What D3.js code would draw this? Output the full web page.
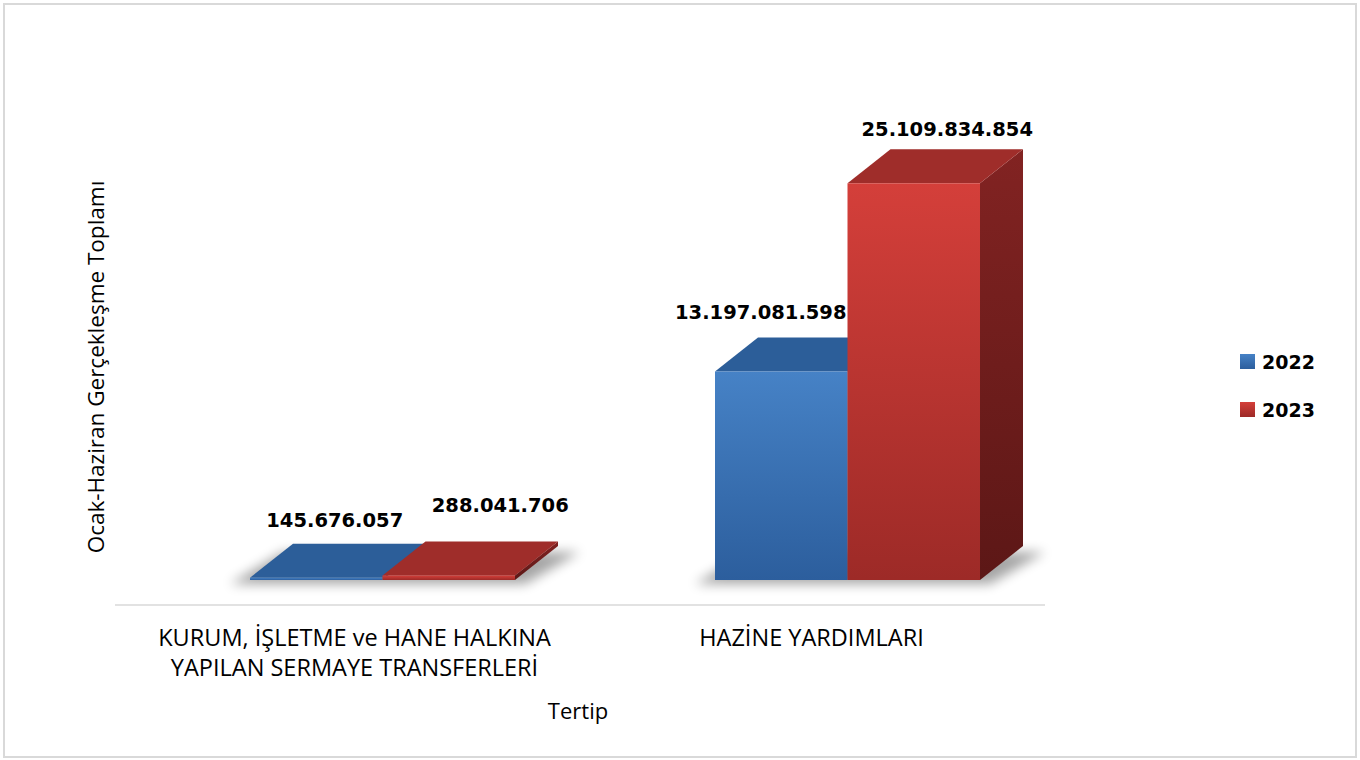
<!DOCTYPE html>
<html>
<head>
<meta charset="utf-8">
<script src="https://cdn.jsdelivr.net/npm/d3@7"></script>
<style>
  body { margin: 0; background: #fff; }
  text { font-family: "Open Sans", sans-serif; fill: #000; }
  .value-label { font-family: "DejaVu Sans", sans-serif; font-weight: bold; font-size: 19.5px; }
  .legend-label { font-family: "DejaVu Sans", sans-serif; font-weight: bold; font-size: 19px; }
</style>
</head>
<body>
<div id="chart"></div>
<script>
// data
const categories = ["KURUM, İŞLETME ve HANE HALKINA\nYAPILAN SERMAYE TRANSFERLERİ", "HAZİNE YARDIMLARI"];
const seriesNames = ["2022", "2023"];
const values2022 = [145676057, 13197081598];
const values2023 = [288041706, 25109834854];
const valueLabels2022 = ["145.676.057", "13.197.081.598"];
const valueLabels2023 = ["288.041.706", "25.109.834.854"];

window.addEventListener("load", () => {

  const W = 1360, H = 760;
  const plot = {left: 115, right: 1045, floor: 580, axisY: 605};
  const depth = {dx: 43, dy: -34};
  const shift = 35;       // 3d projection offset of the bars against the category slot
  const groupWidth = 265;

  // label nudges [category][series], relative to the top face centre
  const labelNudge = [[[-3, -17], [30, -29]], [[-42, -18], [12, -13]]];

  const svg = d3.select("#chart").append("svg")
                .attr("width", W)
                .attr("height", H);

  const defs = svg.append("defs");

  // colours of the faces
  const colors = {
    "2022": {frontTop: "#4682c6", frontBottom: "#2c5e9d", top: "#2c5e99", sideTop: "#234d80", sideBottom: "#1b3b63"},
    "2023": {frontTop: "#d43f3a", frontBottom: "#9d2a27", top: "#9f2d2a", sideTop: "#822322", sideBottom: "#5c1716"}
  };

  seriesNames.forEach(s => {
    const c = colors[s];
    const gf = defs.append("linearGradient").attr("id", `front-${s}`)
                   .attr("x1", 0).attr("y1", 0).attr("x2", 0).attr("y2", 1);
    gf.append("stop").attr("offset", "0%").attr("stop-color", c.frontTop);
    gf.append("stop").attr("offset", "100%").attr("stop-color", c.frontBottom);

    const gs = defs.append("linearGradient").attr("id", `side-${s}`)
                   .attr("x1", 0).attr("y1", 0).attr("x2", 0).attr("y2", 1);
    gs.append("stop").attr("offset", "0%").attr("stop-color", c.sideTop);
    gs.append("stop").attr("offset", "100%").attr("stop-color", c.sideBottom);

    const lg = defs.append("linearGradient").attr("id", `legend-${s}`)
                   .attr("x1", 0).attr("y1", 0).attr("x2", 0).attr("y2", 1);
    lg.append("stop").attr("offset", "0%").attr("stop-color", c.frontTop);
    lg.append("stop").attr("offset", "100%").attr("stop-color", c.frontBottom);
  });

  defs.append("filter").attr("id", "shadow-blur")
      .attr("x", "-20%").attr("y", "-50%").attr("width", "140%").attr("height", "200%")
    .append("feGaussianBlur").attr("stdDeviation", 6);

  // frame
  svg.append("rect")
      .attr("x", 4).attr("y", 4)
      .attr("width", W - 8).attr("height", H - 7)
      .attr("fill", "#fff")
      .attr("stroke", "#d9d9d9")
      .attr("stroke-width", 2);

  // scales
  const x = d3.scaleBand()
              .domain(categories)
              .range([plot.left, plot.right]);

  const xInner = d3.scaleBand()
                   .domain(seriesNames)
                   .range([0, groupWidth]);

  const y = d3.scaleLinear()
              .domain([0, 30000000000])
              .range([plot.floor, 106]);

  // category axis line
  svg.append("line")
      .attr("x1", plot.left).attr("x2", plot.right)
      .attr("y1", plot.axisY).attr("y2", plot.axisY)
      .attr("stroke", "#d9d9d9")
      .attr("stroke-width", 1.5);

  const rows = categories.map((c, i) => ({
    category: c,
    bars: [
      {series: "2022", value: values2022[i], label: valueLabels2022[i]},
      {series: "2023", value: values2023[i], label: valueLabels2023[i]}
    ]
  }));

  const groups = svg.selectAll(".group")
                    .data(rows)
                    .enter().append("g")
                      .attr("class", "group")
                      .attr("transform", d => `translate(${x(d.category) + x.bandwidth() / 2 + shift - groupWidth / 2},0)`);

  // floor shadow below each group
  groups.append("path")
        .attr("fill", "#000")
        .attr("opacity", 0.35)
        .attr("filter", "url(#shadow-blur)")
        .attr("d", () => {
          const b = plot.floor;
          return `M${-20},${b + 4} L${groupWidth + 10},${b + 4} L${groupWidth + depth.dx + 22},${b + depth.dy + 6} L${depth.dx - 10},${b + depth.dy + 6} Z`;
        });

  const bars = groups.selectAll(".bar")
                     .data(d => d.bars)
                     .enter().append("g")
                       .attr("class", "bar");

  const bw = xInner.bandwidth();

  // side face
  bars.append("path")
      .attr("fill", d => `url(#side-${d.series})`)
      .attr("d", d => {
        const x0 = xInner(d.series) + bw, yt = y(d.value), yb = y(0);
        return `M${x0},${yt} L${x0 + depth.dx},${yt + depth.dy} L${x0 + depth.dx},${yb + depth.dy} L${x0},${yb} Z`;
      });

  // top face
  bars.append("path")
      .attr("fill", d => colors[d.series].top)
      .attr("d", d => {
        const x0 = xInner(d.series), yt = y(d.value);
        return `M${x0},${yt} L${x0 + depth.dx},${yt + depth.dy} L${x0 + bw + depth.dx},${yt + depth.dy} L${x0 + bw},${yt} Z`;
      });

  // front face
  bars.append("rect")
      .attr("x", d => xInner(d.series))
      .attr("y", d => y(d.value))
      .attr("width", bw)
      .attr("height", d => Math.max(1.5, y(0) - y(d.value)))
      .attr("fill", d => `url(#front-${d.series})`);

  // value labels
  groups.each(function(d, ci) {
    d3.select(this).selectAll(".value-label")
      .data(d.bars)
      .enter().append("text")
        .attr("class", "value-label")
        .attr("text-anchor", "middle")
        .attr("x", (b, si) => xInner(b.series) + bw / 2 + depth.dx / 2 + labelNudge[ci][si][0])
        .attr("y", (b, si) => y(b.value) + depth.dy + labelNudge[ci][si][1])
        .text(b => b.label);
  });

  // category labels
  svg.selectAll(".cat-label")
     .data(categories)
     .enter().append("text")
       .attr("class", "cat-label")
       .attr("text-anchor", "middle")
       .attr("font-size", "23.5px")
       .attr("x", (d, i) => x(d) + x.bandwidth() / 2 + (i === 0 ? 7 : -1))
       .attr("y", 646)
     .selectAll("tspan")
     .data(d => d.split("\n"))
     .enter().append("tspan")
       .attr("x", function() { return d3.select(this.parentNode).attr("x"); })
       .attr("dy", (d, i) => i === 0 ? 0 : 30)
       .text(d => d);

  // axis titles
  svg.append("text")
      .attr("text-anchor", "middle")
      .attr("font-size", "22px")
      .attr("x", 578)
      .attr("y", 719)
      .text("Tertip");

  svg.append("text")
      .attr("text-anchor", "middle")
      .attr("font-size", "22.5px")
      .attr("transform", "translate(104,367) rotate(-90)")
      .text("Ocak-Haziran Gerçekleşme Toplamı");

  // legend
  const legend = svg.selectAll(".legend")
                    .data(seriesNames)
                    .enter().append("g")
                      .attr("class", "legend")
                      .attr("transform", (d, i) => `translate(1240,${354 + i * 48})`);

  legend.append("rect")
        .attr("width", 15).attr("height", 15)
        .attr("fill", d => `url(#legend-${d})`);

  legend.append("text")
        .attr("class", "legend-label")
        .attr("x", 22)
        .attr("y", 15)
        .text(d => d);
});
</script>
</body>
</html>
